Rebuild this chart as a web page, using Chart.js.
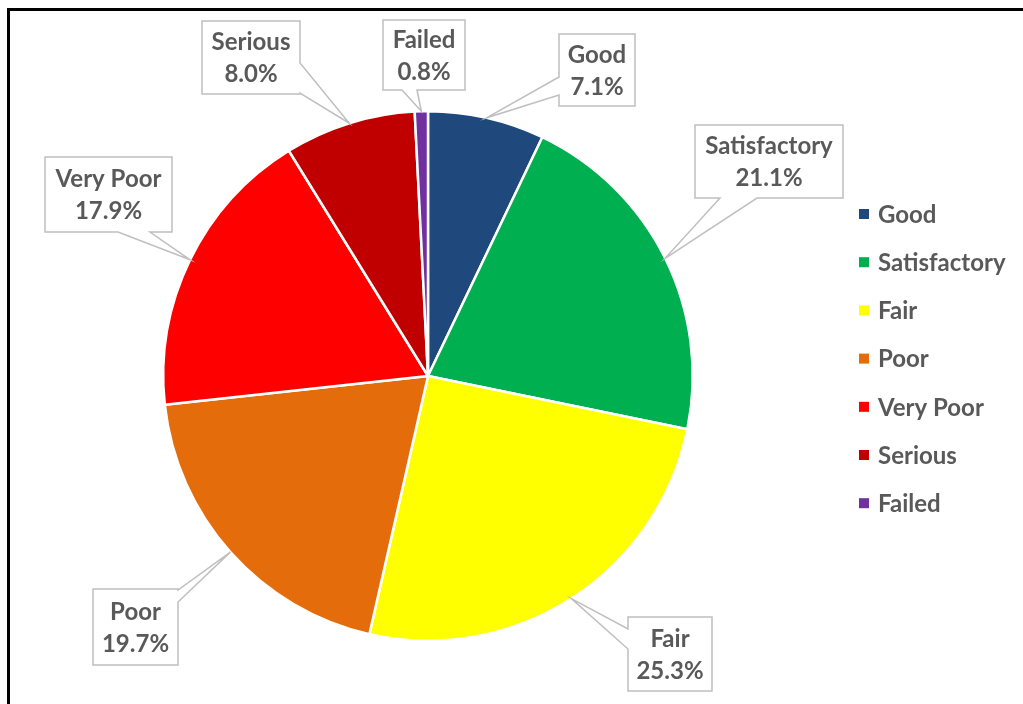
<!DOCTYPE html>
<html>
<head>
<meta charset="utf-8">
<script src="https://cdn.jsdelivr.net/npm/chart.js@4"></script>
<style>
  html, body { margin: 0; padding: 0; background: #fff; overflow: hidden; }
  #wrap { position: relative; width: 1023px; height: 704px; }
  #frame { position: absolute; left: 7px; top: 8px; width: 2000px; height: 2000px;
           border-left: 3px solid #000; border-top: 3px solid #000; box-sizing: border-box; }
  canvas { position: absolute; left: 0; top: 0; }
</style>
</head>
<body>
<div id="wrap">
  <div id="frame"></div>
  <canvas id="pieChart" width="1023" height="704"></canvas>
</div>
<script>
// condition categories and their share (%)
const categories = ["Good", "Satisfactory", "Fair", "Poor", "Very Poor", "Serious", "Failed"];
const shares = [7.1, 21.1, 25.3, 19.7, 17.9, 8.0, 0.8];
const sliceColors = ["#1F497D", "#00B050", "#FFFF00", "#E46C0A", "#FF0000", "#C00000", "#7030A0"];

// callout box placement (x, y, w, h) and where the pointer leaves the box
const calloutBoxes = [
  { x: 559, y: 34,  w: 76,  h: 72, side: "left",   a: 77,  b: 95 },
  { x: 695, y: 125, w: 148, h: 73, side: "bottom", a: 720, b: 757 },
  { x: 628, y: 617, w: 84,  h: 74, side: "left",   a: 629, b: 649 },
  { x: 93,  y: 589, w: 85,  h: 76, side: "right",  a: 590, b: 602 },
  { x: 45,  y: 157, w: 127, h: 75, side: "bottom", a: 118, b: 150 },
  { x: 202, y: 21,  w: 98,  h: 73, side: "right",  a: 63,  b: 93 },
  { x: 383, y: 20,  w: 82,  h: 70, side: "bottom", a: 402, b: 417 }
];

const textColor = "#595959";
const labelFont = "bold 24px Lato, 'Open Sans', sans-serif";

const calloutPlugin = {
  id: "callouts",
  afterDatasetsDraw(chart) {
    const ctx = chart.ctx;
    const arcs = chart.getDatasetMeta(0).data;
    const total = shares.reduce((s, v) => s + v, 0);
    arcs.forEach((arc, i) => {
      const p = arc.getProps(["x", "y", "startAngle", "endAngle", "outerRadius"], true);
      const mid = (p.startAngle + p.endAngle) / 2;
      const tx = p.x + Math.cos(mid) * p.outerRadius;
      const ty = p.y + Math.sin(mid) * p.outerRadius;
      const b = calloutBoxes[i];
      const x0 = b.x, y0 = b.y, x1 = b.x + b.w, y1 = b.y + b.h;

      ctx.save();
      ctx.beginPath();
      ctx.moveTo(x0, y0);
      ctx.lineTo(x1, y0);
      if (b.side === "right") {
        ctx.lineTo(x1, b.a); ctx.lineTo(tx, ty); ctx.lineTo(x1, b.b);
      }
      ctx.lineTo(x1, y1);
      if (b.side === "bottom") {
        ctx.lineTo(b.b, y1); ctx.lineTo(tx, ty); ctx.lineTo(b.a, y1);
      }
      ctx.lineTo(x0, y1);
      if (b.side === "left") {
        ctx.lineTo(x0, b.b); ctx.lineTo(tx, ty); ctx.lineTo(x0, b.a);
      }
      ctx.closePath();
      ctx.fillStyle = "#ffffff";
      ctx.fill();
      ctx.strokeStyle = "#BFBFBF";
      ctx.lineWidth = 1.5;
      ctx.stroke();

      const cx = (x0 + x1) / 2, cy = (y0 + y1) / 2;
      ctx.fillStyle = textColor;
      ctx.font = labelFont;
      ctx.textAlign = "center";
      ctx.textBaseline = "middle";
      ctx.fillText(chart.data.labels[i], cx, cy - 15);
      ctx.fillText((shares[i] / total * 100).toFixed(1) + "%", cx, cy + 17);
      ctx.restore();
    });
  },
  afterDraw(chart) {
    // legend on the right
    const ctx = chart.ctx;
    const lx = chart.chartArea.right + 165;
    const ly = 214, step = 48.2;
    ctx.save();
    ctx.font = labelFont;
    ctx.textAlign = "left";
    ctx.textBaseline = "middle";
    chart.data.labels.forEach((lab, i) => {
      const y = ly + i * step;
      ctx.fillStyle = sliceColors[i];
      ctx.fillRect(lx, y - 5, 10, 10);
      ctx.fillStyle = textColor;
      ctx.fillText(lab, lx + 19, y + 1);
    });
    ctx.restore();
  }
};

new Chart(document.getElementById("pieChart"), {
  type: "pie",
  data: {
    labels: categories,
    datasets: [{
      data: shares,
      backgroundColor: sliceColors,
      borderColor: "#ffffff",
      borderWidth: 2.5
    }]
  },
  options: {
    responsive: false,
    animation: false,
    layout: { padding: { top: 110, bottom: 62, left: 162, right: 329 } },
    plugins: {
      legend: { display: false },
      tooltip: { enabled: false }
    }
  },
  plugins: [calloutPlugin]
});
</script>
</body>
</html>
